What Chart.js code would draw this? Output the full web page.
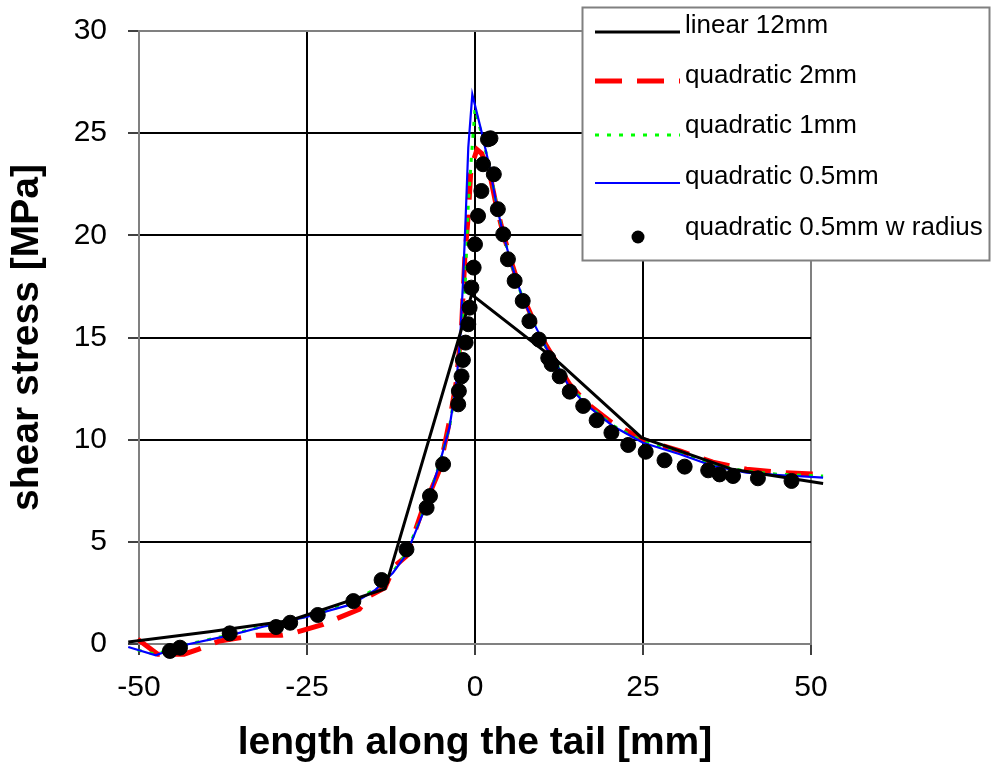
<!DOCTYPE html>
<html lang="en">
<head>
  <meta charset="UTF-8">
  <title>Shear stress along the tail</title>
  <script src="https://cdn.jsdelivr.net/npm/chart.js"></script>
  <style>
    body {
      margin: 0;
      background: white;
    }
  </style>
</head>
<body>
  <canvas id="stressChart" width="991" height="767"></canvas>
  <script>
    // axis ticks
    const xTicks = [-50, -25, 0, 25, 50];
    const yTicks = [0, 5, 10, 15, 20, 25, 30];

    // linear 12mm
    const xLinear = [-51.6, -39.5, -27.5, -13.4, -0.5, 12.6, 24.8, 38.3, 51.8];
    const yLinear = [0.1, 0.6, 1.15, 2.7, 17.1, 13.75, 10.1, 8.55, 7.85];

    // quadratic 2mm
    const xQuad2 = [-50.2, -47.2, -43.3, -41.2, -38.0, -32.5, -28.8, -26.8, -22.6, -20.9, -17.2, -15.7, -13.4,
      -12.0, -10.2, -8.0, -5.3, -3.8, -2.8, -2.0, -1.5, -1.0, -0.6, 0.3, 1.0, 2.2, 3.2, 4.2, 5.4, 6.9, 8.6,
      10.6, 12.1, 14.1, 16.6, 20.5, 25.0, 30.5, 35.4, 40.4, 45.3, 51.8];
    const yQuad2 = [0.23, -0.5, -0.5, -0.26, 0.15, 0.43, 0.43, 0.55, 0.96, 1.2, 1.7, 2.35, 2.76,
      3.8, 4.3, 6.4, 8.5, 10.9, 12.8, 15.5, 19.0, 21.0, 23.3, 24.2, 24.0, 23.0, 21.4, 20.1, 18.7, 17.2, 15.9,
      14.6, 13.8, 12.7, 11.8, 10.8, 10.0, 9.45, 8.9, 8.55, 8.4, 8.3];

    // quadratic 1mm
    const xQuad1 = [-51.6, -50.2, -47.5, -43.9, -36.5, -31.7, -25.1, -18.4, -14.9, -12.2, -10.2, -7.0, -5.3,
      -3.8, -2.8, -2.0, -1.4, -1.0, -0.5, 0.0, 1.0, 2.2, 3.2, 4.2, 5.4, 6.9, 8.6, 10.6, 12.1, 14.1, 16.6,
      20.5, 25.0, 30.5, 35.4, 40.4, 45.3, 51.8];
    const yQuad1 = [-0.18, -0.3, -0.5, -0.1, 0.45, 0.85, 1.35, 1.98, 2.7, 3.55, 4.45, 7.05, 8.8,
      10.6, 12.7, 15.3, 18.0, 21.5, 24.0, 26.2, 24.9, 23.3, 21.5, 20.05, 18.6, 17.1, 15.8, 14.5, 13.7, 12.6, 11.75,
      10.7, 9.9, 9.35, 8.8, 8.45, 8.3, 8.22];

    // quadratic 0.5mm
    const xQuad05 = [-51.6, -47.5, -43.9, -36.5, -31.7, -25.1, -18.4, -14.9, -12.2, -10.2, -7.0, -5.3, -3.8,
      -2.8, -2.2, -1.8, -1.4, -1.0, -0.4, 0.95, 2.2, 3.2, 4.2, 5.4, 6.9, 8.6, 10.6, 12.1, 14.1, 16.6, 20.5,
      25.0, 30.5, 35.4, 40.4, 45.3, 51.8];
    const yQuad05 = [-0.15, -0.55, -0.1, 0.42, 0.83, 1.32, 1.94, 2.63, 3.49, 4.39, 7.0, 8.8, 10.6,
      12.7, 15.0, 17.6, 20.8, 24.3, 26.9, 25.1, 23.3, 21.5, 20.05, 18.6, 17.1, 15.8, 14.5, 13.7, 12.55, 11.7, 10.67,
      9.85, 9.29, 8.71, 8.39, 8.27, 8.14];

    // quadratic 0.5mm w radius (markers)
    const xRadius = [-45.4, -43.9, -36.5, -29.6, -27.5, -23.4, -18.1, -13.9, -10.2, -7.2, -6.7, -4.75, -2.5,
      -2.4, -2.0, -1.8, -1.4, -1.0, -0.8, -0.54, -0.2, 0.0, 0.45, 0.95, 1.2, 1.93, 2.3, 2.8, 3.4, 4.2, 4.9,
      5.9, 7.1, 8.1, 9.5, 10.9, 11.4, 12.6, 14.1, 16.1, 18.1, 20.3, 22.8, 25.4, 28.2, 31.2, 34.7, 36.4,
      38.4, 42.1, 47.1];
    const yRadius = [-0.34, -0.18, 0.52, 0.83, 1.04, 1.42, 2.1, 3.13, 4.63, 6.67, 7.24, 8.8, 11.73,
      12.38, 13.1, 13.9, 14.75, 15.65, 16.46, 17.44, 18.42, 19.56, 20.95, 22.17, 23.48, 24.7, 24.75, 22.99, 21.28, 20.05, 18.83,
      17.77, 16.79, 15.8, 14.9, 14.0, 13.7, 13.1, 12.35, 11.65, 10.95, 10.34, 9.74, 9.41, 8.99, 8.68, 8.5, 8.3,
      8.22, 8.11, 7.98];

    const toPoints = (xs, ys) => xs.map((x, i) => ({ x: x, y: ys[i] }));

    Chart.defaults.font.family = '"Liberation Sans", Arial, sans-serif';
    Chart.defaults.color = '#000';

    // legend box drawn in the top right, like the original
    const boxLegend = {
      id: 'boxLegend',
      afterDraw(chart) {
        const c = chart.ctx;
        const textRows = [33, 83, 133, 184, 235];
        const sampleRows = [32, 81, 135, 183, 237];
        c.save();
        c.fillStyle = '#fff';
        c.fillRect(582.5, 7.5, 407, 253);
        c.strokeStyle = '#808080';
        c.lineWidth = 2;
        c.strokeRect(582.5, 7.5, 407, 253);
        c.font = '26px "Liberation Sans", Arial, sans-serif';
        c.textBaseline = 'alphabetic';
        chart.data.datasets.forEach((ds, i) => {
          const yLine = sampleRows[i];
          if (ds.showLine) {
            c.beginPath();
            c.strokeStyle = ds.borderColor;
            c.lineWidth = ds.borderWidth;
            c.setLineDash(ds.borderDash || []);
            c.moveTo(595, yLine);
            c.lineTo(680, yLine);
            c.stroke();
            c.setLineDash([]);
          } else {
            c.beginPath();
            c.fillStyle = '#000';
            c.arc(638, yLine, 6.5, 0, Math.PI * 2);
            c.fill();
          }
          c.fillStyle = '#000';
          c.fillText(ds.label, 685, textRows[i]);
        });
        c.restore();
      }
    };

    const edgeColor = (edges) => (ctx) => edges.includes(ctx.tick.value) ? '#808080' : '#000';

    const ctx = document.getElementById('stressChart').getContext('2d');
    new Chart(ctx, {
      type: 'line',
      data: {
        datasets: [
          {
            label: 'linear 12mm',
            data: toPoints(xLinear, yLinear),
            borderColor: '#000',
            borderWidth: 3,
            pointRadius: 0,
            showLine: true,
            clip: false,
            order: 0
          },
          {
            label: 'quadratic 2mm',
            data: toPoints(xQuad2, yQuad2),
            borderColor: '#ff0000',
            borderWidth: 5,
            borderDash: [27, 15],
            pointRadius: 0,
            showLine: true,
            clip: false,
            order: 4
          },
          {
            label: 'quadratic 1mm',
            data: toPoints(xQuad1, yQuad1),
            borderColor: '#00ff00',
            borderWidth: 3,
            borderDash: [4, 8],
            pointRadius: 0,
            showLine: true,
            clip: false,
            order: 3
          },
          {
            label: 'quadratic 0.5mm',
            data: toPoints(xQuad05, yQuad05),
            borderColor: '#0000ff',
            borderWidth: 2.2,
            pointRadius: 0,
            showLine: true,
            clip: false,
            order: 2
          },
          {
            label: 'quadratic 0.5mm w radius',
            data: toPoints(xRadius, yRadius),
            borderColor: '#000',
            backgroundColor: '#000',
            pointRadius: 7.5,
            pointStyle: 'circle',
            showLine: false,
            clip: false,
            order: 1
          }
        ]
      },
      options: {
        responsive: false,
        animation: false,
        layout: {
          autoPadding: false,
          padding: { left: 0, right: 180, top: 31, bottom: 0 }
        },
        plugins: {
          legend: { display: false },
          tooltip: { enabled: false }
        },
        scales: {
          x: {
            type: 'linear',
            min: -50,
            max: 50,
            afterFit: (scale) => { scale.height = 123; },
            afterBuildTicks: (scale) => { scale.ticks = xTicks.map(v => ({ value: v })); },
            ticks: {
              font: { size: 30 },
              padding: 15,
              maxRotation: 0
            },
            grid: {
              color: edgeColor([-50, 50]),
              lineWidth: 2,
              tickColor: '#000',
              tickWidth: 1.5,
              tickLength: 11
            },
            border: { color: '#808080', width: 2 },
            title: {
              display: true,
              text: 'length along the tail [mm]',
              font: { size: 39, weight: 'bold' },
              padding: { top: 0, bottom: 0 }
            }
          },
          y: {
            type: 'linear',
            min: 0,
            max: 30,
            afterFit: (scale) => {
              scale.width = 139;
              // the tick padding would otherwise push the plot top down
              scale.paddingTop = 0;
              scale.paddingBottom = 0;
            },
            afterBuildTicks: (scale) => { scale.ticks = yTicks.map(v => ({ value: v })); },
            ticks: {
              font: { size: 30 },
              padding: 21
            },
            grid: {
              color: edgeColor([0, 30]),
              lineWidth: 2,
              tickColor: '#000',
              tickWidth: 1.5,
              tickLength: 11
            },
            border: { color: '#808080', width: 2 },
            title: {
              display: true,
              text: 'shear stress [MPa]',
              font: { size: 39, weight: 'bold' },
              padding: { top: 4, bottom: 0 }
            }
          }
        }
      },
      plugins: [boxLegend]
    });
  </script>
</body>
</html>
